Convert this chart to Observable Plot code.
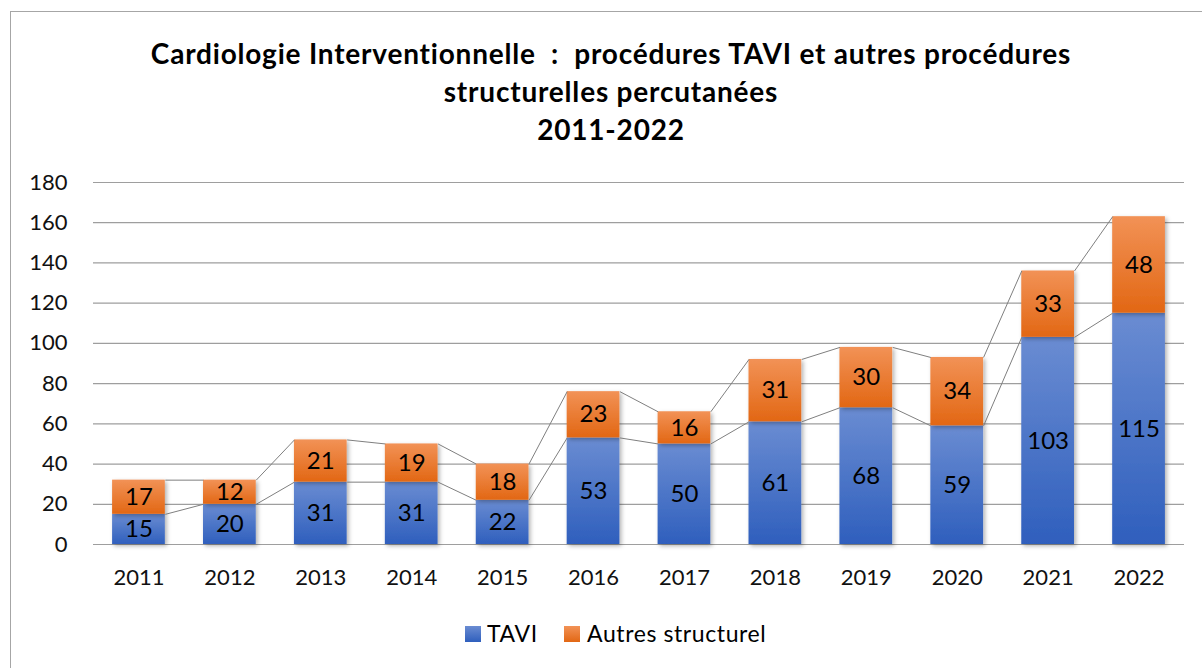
<!DOCTYPE html>
<html>
<head>
<meta charset="utf-8">
<script src="https://cdn.jsdelivr.net/npm/d3@7"></script>
<script src="https://cdn.jsdelivr.net/npm/@observablehq/plot@0.6"></script>
<style>
  html, body { margin: 0; padding: 0; background: #fff; }
  #wrap { position: relative; width: 1202px; height: 668px; overflow: hidden; font-family: Lato, "Open Sans", sans-serif; }
  #frame { position: absolute; left: 10px; top: 11px; width: 1300px; height: 800px; border-left: 1.5px solid #a6a6a6; border-top: 1.5px solid #a6a6a6; }
  .tline { position: absolute; left: 0; width: 1222px; text-align: center; font-weight: 700; font-size: 28px; letter-spacing: 0.8px; line-height: 38px; color: #000; white-space: pre; }
  #chart { position: absolute; left: 0; top: 0; }
  .sw { position: absolute; width: 16px; height: 16px; }
  .lt { position: absolute; font-size: 23px; letter-spacing: 0.6px; line-height: 26px; color: #000; white-space: nowrap; }
</style>
</head>
<body>
<div id="wrap">
  <div id="frame"></div>
  <div id="chart"></div>
  <div class="tline" id="t1" style="top:34px"></div>
  <div class="tline" id="t2" style="top:72px"></div>
  <div class="tline" id="t3" style="top:110px"></div>
  <div class="sw" style="left:465px; top:626px; background: linear-gradient(#6a8cd2, #2f5fbd);"></div>
  <div class="lt" id="l1" style="left:487px; top:620px;"></div>
  <div class="sw" style="left:564px; top:626px; background: linear-gradient(#f29256, #e26714);"></div>
  <div class="lt" id="l2" style="left:587px; top:620px;"></div>
</div>
<script>
const titleLines = ["Cardiologie Interventionnelle  :  procédures TAVI et autres procédures", "structurelles percutanées", "2011-2022"];
const seriesNames = ["TAVI", "Autres structurel"];
const years = [2011, 2012, 2013, 2014, 2015, 2016, 2017, 2018, 2019, 2020, 2021, 2022];
const tavi = [15, 20, 31, 31, 22, 53, 50, 61, 68, 59, 103, 115];
const autres = [17, 12, 21, 19, 18, 23, 16, 31, 30, 34, 33, 48];
const yTicks = [0, 20, 40, 60, 80, 100, 120, 140, 160, 180];

document.getElementById("t1").textContent = titleLines[0];
document.getElementById("t2").textContent = titleLines[1];
document.getElementById("t3").textContent = titleLines[2];
document.getElementById("l1").textContent = seriesNames[0];
document.getElementById("l2").textContent = seriesNames[1];

const hw = 0.29; // half bar width in years
const rows = years.map((y, i) => ({year: y, tavi: tavi[i], autres: autres[i], total: tavi[i] + autres[i]}));
const links = rows.slice(0, -1).map((d, i) => ({x1: d.year + hw, x2: rows[i + 1].year - hw, a1: d.tavi, a2: rows[i + 1].tavi, t1: d.total, t2: rows[i + 1].total}));

const plot = Plot.plot({
  width: 1202,
  height: 668,
  marginLeft: 93,
  marginRight: 18,
  marginTop: 182,
  marginBottom: 124,
  style: {fontFamily: "Lato, 'Open Sans', sans-serif", fontSize: "22px", color: "#111", background: "transparent"},
  x: {type: "linear", domain: [2010.5, 2022.5], ticks: years, tickFormat: d => String(d), tickSize: 0, tickPadding: 25, label: null},
  y: {domain: [0, 180], ticks: yTicks, tickSize: 0, tickPadding: 26, label: null},
  marks: [
    Plot.gridY(yTicks, {stroke: "#9e9e9e", strokeOpacity: 1, strokeWidth: 1.2}),
    Plot.rect(rows, {x1: d => d.year - hw, x2: d => d.year + hw, y1: 0, y2: "tavi", fill: "url(#gBlue)"}),
    Plot.rect(rows, {x1: d => d.year - hw, x2: d => d.year + hw, y1: "tavi", y2: "total", fill: "url(#gOrange)"}),
    Plot.link(links, {x1: "x1", x2: "x2", y1: "a1", y2: "a2", stroke: "#7f7f7f", strokeWidth: 1}),
    Plot.link(links, {x1: "x1", x2: "x2", y1: "t1", y2: "t2", stroke: "#7f7f7f", strokeWidth: 1}),
    Plot.text(rows, {x: "year", y: d => d.tavi / 2, text: d => String(d.tavi), fontSize: 24, fill: "#000"}),
    Plot.text(rows, {x: "year", y: d => d.tavi + d.autres / 2, text: d => String(d.autres), fontSize: 24, fill: "#000"})
  ]
});

const ns = "http://www.w3.org/2000/svg";
const defs = document.createElementNS(ns, "defs");
defs.innerHTML = `
  <linearGradient id="gBlue" x1="0" y1="0" x2="0" y2="1">
    <stop offset="0" stop-color="#6a8cd2"/><stop offset="1" stop-color="#2f5fbd"/>
  </linearGradient>
  <linearGradient id="gOrange" x1="0" y1="0" x2="0" y2="1">
    <stop offset="0" stop-color="#f29256"/><stop offset="1" stop-color="#e26714"/>
  </linearGradient>
  <filter id="shadow" x="-20%" y="-20%" width="140%" height="140%">
    <feDropShadow dx="2" dy="2" stdDeviation="2" flood-color="#000" flood-opacity="0.3"/>
  </filter>`;
plot.insertBefore(defs, plot.firstChild);
plot.querySelectorAll('g[aria-label="rect"]').forEach(g => g.setAttribute("filter", "url(#shadow)"));
document.getElementById("chart").appendChild(plot);
</script>
</body>
</html>
